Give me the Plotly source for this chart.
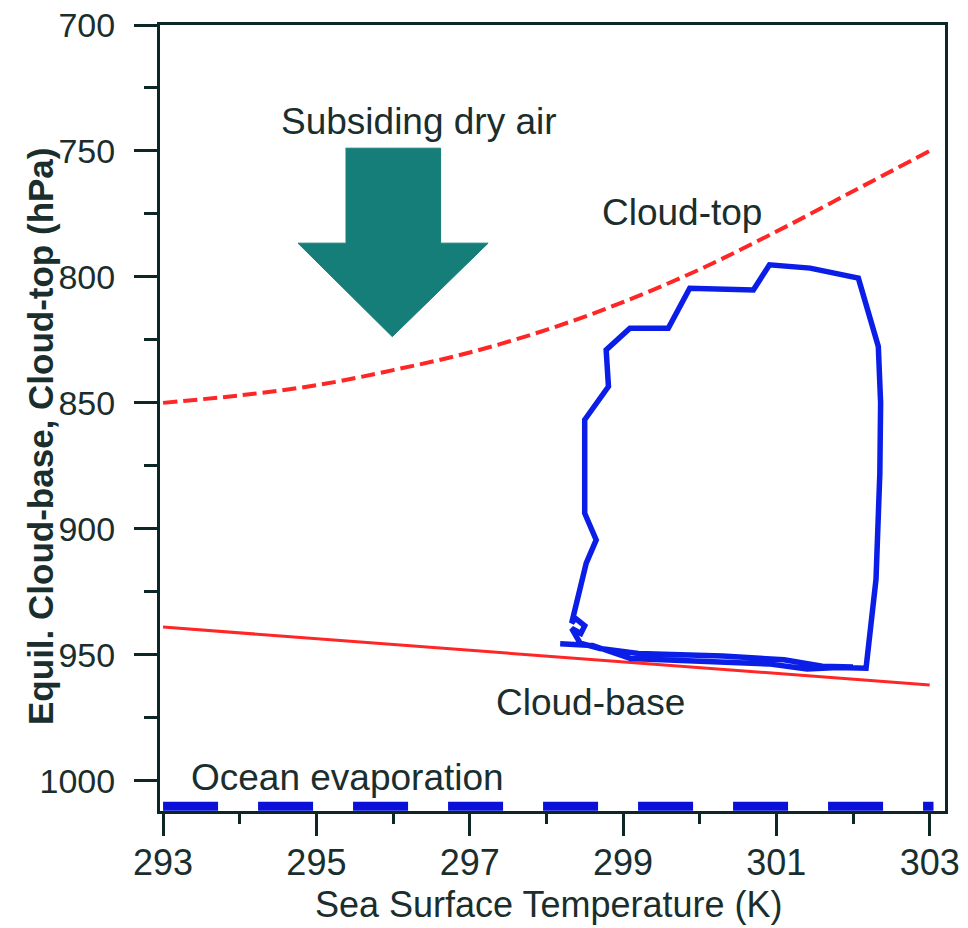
import plotly.graph_objects as go

# Cloud-top (red dashed)
top_sst = [293, 294, 295, 296, 297, 298, 299, 300, 301, 302, 303]
top_p = [850, 847, 843, 837, 830, 821, 810, 797, 782, 766, 750]

# Cloud-base (red solid)
base_sst = [293, 298, 303]
base_p = [939, 950.5, 962]

# Ocean evaporation (blue dashed at surface)
evap_sst = [293, 303.05]
evap_p = [1010.1, 1010.1]

# Blue loop trajectory
loop_sst = [298.18, 298.6, 299.1, 300.0, 300.9, 301.4, 301.8, 302.17,
            302.3, 302.35, 302.36, 302.33, 302.07, 301.44, 300.91, 300.7,
            299.87, 299.59, 299.09, 298.78, 298.81, 298.5, 298.5, 298.65,
            298.52, 298.33, 298.38, 298.5, 298.45, 298.33, 298.44,
            298.7, 299.2, 300.3, 301.1, 301.6, 302.0]
loop_p = [945.6, 946.3, 951.5, 952.3, 953.6, 955.6, 955.0, 955.3,
          920.0, 877.9, 850.0, 827.6, 800.5, 796.5, 795.2, 805.2,
          804.5, 820.4, 820.4, 829.0, 843.5, 856.7, 893.8, 904.4,
          913.6, 937.4, 935.5, 938.5, 941.5, 939.5, 945.4,
          947.5, 949.5, 950.5, 952.0, 954.5, 954.8]

# Subsiding-air arrow outline (data coords)
arrow_x = [295.38, 296.62, 296.62, 297.24, 295.99, 294.76, 295.38]
arrow_y = [748.9, 748.9, 786.6, 786.6, 823.7, 786.6, 786.6]

x_ticks = [293, 295, 297, 299, 301, 303]
y_ticks = [700, 750, 800, 850, 900, 950, 1000]

FONT = "Liberation Sans, Arial, sans-serif"
TXT = "#1a2e2e"
AX = "#0d2626"

fig = go.Figure()
fig.add_trace(go.Scatter(x=arrow_x, y=arrow_y, mode="lines", fill="toself",
                         fillcolor="#167e79", line=dict(color="#167e79", width=1),
                         hoverinfo="skip"))
fig.add_trace(go.Scatter(x=top_sst, y=top_p, mode="lines", line_shape="spline",
                         line=dict(color="#ff2626", width=4, dash="14px,6px")))
fig.add_trace(go.Scatter(x=base_sst, y=base_p, mode="lines",
                         line=dict(color="#ff2626", width=3)))
fig.add_trace(go.Scatter(x=evap_sst, y=evap_p, mode="lines",
                         line=dict(color="#0a10d8", width=9, dash="55px,40px")))
fig.add_trace(go.Scatter(x=loop_sst, y=loop_p, mode="lines",
                         line=dict(color="#0a1ee8", width=5.5)))

ann = [
    ("Subsiding dry air", 296.34, 738.5),
    ("Cloud-top", 299.77, 774.6),
    ("Cloud-base", 298.58, 969.0),
    ("Ocean evaporation", 295.41, 998.8),
]
for t, x, y in ann:
    fig.add_annotation(x=x, y=y, text=t, showarrow=False,
                       xanchor="center", yanchor="middle",
                       font=dict(family=FONT, size=37, color=TXT))

# axis titles
fig.add_annotation(xref="paper", yref="paper", x=-0.153, y=0.477,
                   xanchor="center", yanchor="middle",
                   text="<b>Equil. Cloud-base, Cloud-top (hPa)</b>", textangle=-90,
                   showarrow=False, font=dict(family=FONT, size=35, color=TXT))
fig.add_annotation(xref="paper", yref="paper", x=0.496, y=-0.119,
                   xanchor="center", yanchor="middle",
                   text="Sea Surface Temperature (K)",
                   showarrow=False, font=dict(family=FONT, size=36, color=TXT))

fig.update_layout(
    width=968, height=928,
    margin=dict(l=160, r=23, t=25, b=117),
    paper_bgcolor="white", plot_bgcolor="white",
    showlegend=False,
    font=dict(family=FONT, size=35, color=TXT),
)
fig.update_xaxes(
    range=[292.96, 303.2], tickvals=x_ticks,
    ticks="outside", ticklen=22, tickwidth=3, tickcolor=AX,
    minor=dict(dtick=1, tick0=293, ticks="outside", ticklen=10, tickwidth=3, tickcolor=AX),
    showline=True, linewidth=3, linecolor=AX, mirror=True,
    showgrid=False, zeroline=False, automargin=False,
    tickfont=dict(size=36), ticklabelstandoff=-4,
)
fig.update_yaxes(
    range=[1012, 700], tickvals=y_ticks,
    ticks="outside", ticklen=23, tickwidth=3, tickcolor=AX,
    minor=dict(dtick=25, tick0=700, ticks="outside", ticklen=13, tickwidth=3, tickcolor=AX),
    showline=True, linewidth=3, linecolor=AX, mirror=True,
    showgrid=False, zeroline=False, automargin=False,
    tickfont=dict(size=34), ticklabelstandoff=12,
)

fig.write_html("out.html", config={"displayModeBar": False},
               post_script="document.body.style.margin='0px';document.body.style.overflow='hidden';")
